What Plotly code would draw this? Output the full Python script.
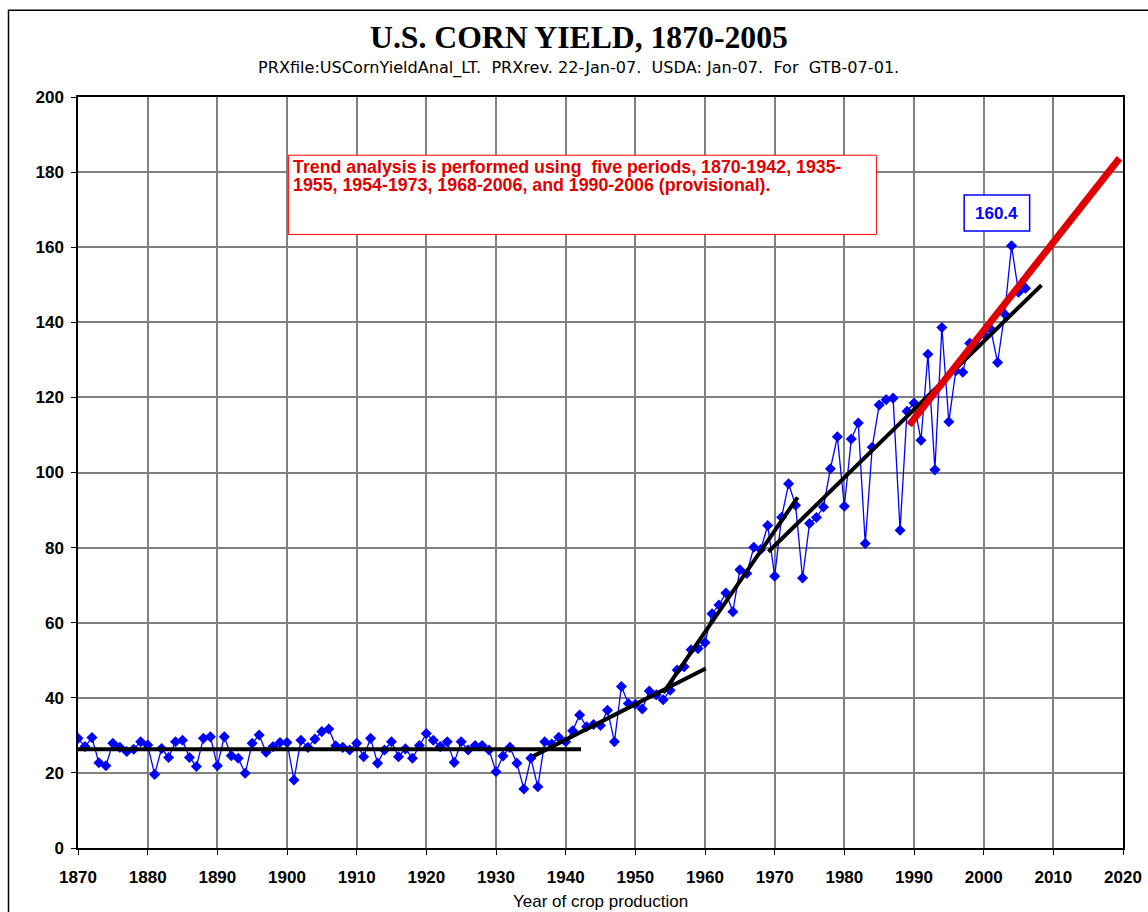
import plotly.graph_objects as go

years = list(range(1870, 2007))
yield_bu = [
    29.2, 27.0, 29.4, 22.7, 21.9, 27.9, 26.8, 25.7, 26.3, 28.3,   # 1870-79
    27.4, 19.6, 26.5, 24.1, 28.3, 28.7, 24.1, 21.7, 29.2, 29.6,   # 1880-89
    21.9, 29.6, 24.6, 23.9, 19.9, 27.9, 30.1, 25.5, 27.0, 28.1,   # 1890-99
    28.1, 18.1, 28.7, 26.8, 29.0, 31.0, 31.7, 27.2, 26.8, 26.1,   # 1900-09
    27.9, 24.3, 29.2, 22.6, 26.1, 28.3, 24.3, 26.4, 23.9, 27.3,   # 1910-19
    30.5, 28.7, 27.0, 28.3, 22.8, 28.3, 26.1, 27.3, 27.3, 26.1,   # 1920-29
    20.3, 24.5, 26.8, 22.6, 15.7, 23.9, 16.3, 28.3, 27.7, 29.5,   # 1930-39
    28.3, 31.2, 35.4, 32.3, 32.9, 32.6, 36.7, 28.3, 43.0, 38.5,   # 1940-49
    38.3, 37.0, 41.8, 40.8, 39.5, 42.0, 47.4, 48.3, 52.8, 53.1,   # 1950-59
    54.7, 62.4, 64.7, 67.9, 62.9, 74.1, 73.1, 80.1, 79.5, 85.9,   # 1960-69
    72.4, 88.1, 97.0, 91.3, 71.9, 86.4, 88.0, 90.8, 101.0, 109.5, # 1970-79
    91.0, 108.9, 113.2, 81.1, 106.7, 118.0, 119.4, 119.8, 84.6, 116.3,  # 1980-89
    118.5, 108.6, 131.5, 100.7, 138.6, 113.5, 127.1, 126.7, 134.4, 133.8,  # 1990-99
    136.9, 138.2, 129.3, 142.2, 160.4, 148.0, 149.1,               # 2000-06
]

# Trend line endpoints
trend1_x = [1870, 1942.2]
trend1_y = [26.3, 26.3]
trend2_x = [1935.3, 1960.1]
trend2_y = [24.4, 47.8]
trend3_x = [1954.0, 1973.3]
trend3_y = [41.3, 93.4]
trend4_x = [1969.1, 2008.3]
trend4_y = [78.9, 149.9]
trend5_x = [1989.3, 2019.5]
trend5_y = [112.6, 183.7]

x_ticks = list(range(1870, 2021, 10))
y_ticks = list(range(0, 201, 20))

title_text = "U.S. CORN YIELD, 1870-2005"
sub_text = ("PRXfile:USCornYieldAnal_LT.\u00a0\u00a0PRXrev. 22-Jan-07.\u00a0\u00a0USDA: Jan-07."
            "\u00a0\u00a0For\u00a0\u00a0GTB-07-01.")
note_line1 = "Trend analysis is performed using\u00a0\u00a0five periods, 1870-1942, 1935-"
note_line2 = "1955, 1954-1973, 1968-2006, and 1990-2006 (provisional)."
peak_label = "160.4"
xaxis_label = "Year of crop production"

SANS = "Liberation Sans, Arial, sans-serif"
SERIF = "Liberation Serif, Times New Roman, serif"

fig = go.Figure()

fig.add_trace(go.Scatter(
    x=years, y=yield_bu, mode="lines+markers",
    line=dict(color="#0000FF", width=1.3),
    marker=dict(symbol="diamond", size=8.5, color="#0000FF",
                line=dict(width=0)),
    showlegend=False, hoverinfo="x+y",
))

for tx, ty in [(trend1_x, trend1_y), (trend2_x, trend2_y),
               (trend3_x, trend3_y), (trend4_x, trend4_y)]:
    fig.add_trace(go.Scatter(x=tx, y=ty, mode="lines",
                             line=dict(color="black", width=4),
                             showlegend=False, hoverinfo="skip"))

fig.add_trace(go.Scatter(x=trend5_x, y=trend5_y, mode="lines",
                         line=dict(color="#E00000", width=7),
                         showlegend=False, hoverinfo="skip"))

fig.update_layout(
    width=1148, height=912, autosize=False,
    margin=dict(l=78, r=25, t=97, b=64),
    paper_bgcolor="white", plot_bgcolor="white",
    font=dict(family=SANS, color="black"),
    xaxis=dict(
        range=[1870, 2020], tickmode="array", tickvals=x_ticks,
        ticktext=[f"<b>{v}</b>" for v in x_ticks],
        tickfont=dict(size=17, family=SANS, color="black"),
        showgrid=True, gridcolor="#808080", gridwidth=2,
        showline=True, linecolor="black", linewidth=1.5, mirror=True,
        ticks="outside", ticklen=5, tickcolor="black", tickwidth=1,
        ticklabelstandoff=8, zeroline=False, automargin=False,
    ),
    yaxis=dict(
        range=[0, 200], tickmode="array", tickvals=y_ticks,
        ticktext=[f"<b>{v}</b>" for v in y_ticks],
        tickfont=dict(size=17, family=SANS, color="black"),
        showgrid=True, gridcolor="#808080", gridwidth=2,
        showline=True, linecolor="black", linewidth=1.5, mirror=True,
        ticks="outside", ticklen=5, tickcolor="black", tickwidth=1,
        ticklabelstandoff=4, zeroline=False, automargin=False,
    ),
)

fig.add_annotation(xref="paper", yref="paper", x=0.4795, y=1.0786,
                   text=f"<b>{title_text}</b>", showarrow=False,
                   font=dict(family=SERIF, size=31.7, color="black"),
                   xanchor="center", yanchor="middle")
fig.add_annotation(xref="paper", yref="paper", x=0.4785, y=1.0386,
                   text=sub_text, showarrow=False,
                   font=dict(family="DejaVu Sans, Liberation Sans, sans-serif",
                             size=16.1, color="black"),
                   xanchor="center", yanchor="middle")
fig.add_annotation(xref="paper", yref="paper", x=0.5, y=-0.0719,
                   text=xaxis_label, showarrow=False,
                   font=dict(family=SANS, size=17, color="black"),
                   xanchor="center", yanchor="middle")

# note box
fig.add_shape(type="rect", xref="x", yref="y", x0=1900.2, x1=1984.6,
              y0=163.4, y1=184.5, line=dict(color="#FF0000", width=1),
              fillcolor="white", layer="above")
fig.add_annotation(xref="x", yref="y", x=1900.6, y=181.3,
                   text=f"<b>{note_line1}</b>", showarrow=False,
                   font=dict(family=SANS, size=17.8, color="#E00000"),
                   xanchor="left", yanchor="middle")
fig.add_annotation(xref="x", yref="y", x=1900.6, y=176.5,
                   text=f"<b>{note_line2}</b>", showarrow=False,
                   font=dict(family=SANS, size=17.8, color="#E00000"),
                   xanchor="left", yanchor="middle")

# peak label box
fig.add_shape(type="rect", xref="x", yref="y", x0=1997.2, x1=2006.6,
              y0=164.3, y1=173.9, line=dict(color="#0000FF", width=1.5),
              fillcolor="white", layer="above")
fig.add_annotation(xref="x", yref="y", x=2001.9, y=169.1,
                   text=f"<b>{peak_label}</b>", showarrow=False,
                   font=dict(family=SANS, size=17, color="#0000FF"),
                   xanchor="center", yanchor="middle")

# outer frame (left and top edges visible)
fig.add_shape(type="rect", xref="paper", yref="paper",
              x0=-0.0665, x1=1.06, y0=-0.12, y1=1.1156,
              line=dict(color="black", width=1.5), layer="above")

fig.write_html(
    "out.html",
    config={"responsive": False, "displayModeBar": False},
    post_script="document.body.style.margin='0';document.body.style.overflow='hidden';",
)
